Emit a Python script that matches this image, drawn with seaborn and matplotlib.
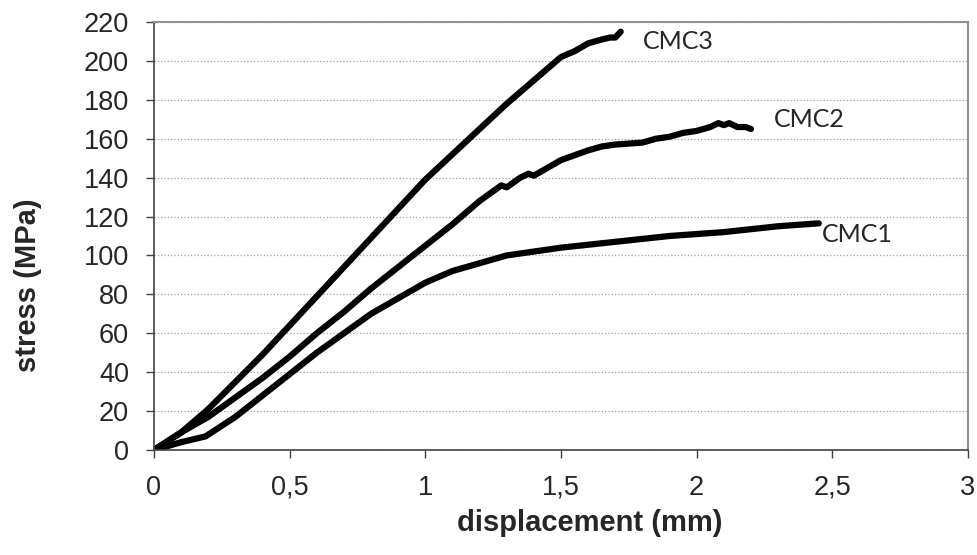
import pandas as pd
import numpy as np
import seaborn as sns
from matplotlib import pyplot as plt

# stress-displacement curves
cmc1_x = [0, 0.1, 0.19, 0.3, 0.4, 0.5, 0.6, 0.7, 0.8, 0.9, 1.0, 1.1, 1.2, 1.3, 1.4, 1.5, 1.7, 1.9, 2.1, 2.3, 2.45]
cmc1_y = [0, 4, 7, 17, 28, 39, 50, 60, 70, 78, 86, 92, 96, 100, 102, 104, 107, 110, 112, 115, 116.5]

cmc2_x = [0, 0.1, 0.2, 0.3, 0.4, 0.5, 0.6, 0.7, 0.8, 0.9, 1.0, 1.1, 1.2, 1.25, 1.28, 1.3, 1.35, 1.38, 1.4, 1.45,
          1.5, 1.6, 1.65, 1.7, 1.8, 1.85, 1.9, 1.95, 2.0, 2.05, 2.08, 2.1, 2.12, 2.15, 2.18, 2.2]
cmc2_y = [0, 9, 17, 27, 37, 48, 60, 71, 83, 94, 105, 116, 128, 133, 136, 135, 140, 142, 141, 145,
          149, 154, 156, 157, 158, 160, 161, 163, 164, 166, 168, 167, 168, 166, 166, 165]

cmc3_x = [0, 0.1, 0.2, 0.3, 0.4, 0.5, 0.6, 0.7, 0.8, 0.9, 1.0, 1.1, 1.2, 1.3, 1.4, 1.5, 1.55, 1.6, 1.65, 1.68, 1.7, 1.72]
cmc3_y = [0, 9, 21, 35, 49, 64, 79, 94, 109, 124, 139, 152, 165, 178, 190, 202, 205, 209, 211, 212, 212, 215]

series_names = ['CMC1', 'CMC2', 'CMC3']
label_pos = [(2.463, 111), (2.285, 170), (1.80, 210)]

x_ticks = [0, 0.5, 1, 1.5, 2, 2.5, 3]
x_ticklabels = ['0', '0,5', '1', '1,5', '2', '2,5', '3']
y_ticks = list(range(0, 221, 20))

df = pd.concat([
    pd.DataFrame({'displacement': cmc1_x, 'stress': cmc1_y, 'sample': 'CMC1'}),
    pd.DataFrame({'displacement': cmc2_x, 'stress': cmc2_y, 'sample': 'CMC2'}),
    pd.DataFrame({'displacement': cmc3_x, 'stress': cmc3_y, 'sample': 'CMC3'}),
])

sns.set_style('white')
plt.rcParams['font.family'] = ['Liberation Sans', 'DejaVu Sans']

fig = plt.figure(figsize=(9.77, 5.55), dpi=100)
ax = fig.add_axes([0.1576, 0.1892, 0.8332, 0.7712])

sns.lineplot(data=df, x='displacement', y='stress', hue='sample', palette=['black'] * 3,
             linewidth=4.5, legend=False, sort=False, ax=ax)

for name, (lx, ly) in zip(series_names, label_pos):
    ax.text(lx, ly, name, fontsize=18, family=['Lato', 'DejaVu Sans'], va='center', ha='left')

ax.set_xlim(0, 3)
ax.set_ylim(0, 220)
ax.set_xticks(x_ticks)
ax.set_xticklabels(x_ticklabels)
ax.set_yticks(y_ticks)
ax.yaxis.grid(True, linestyle=':', color='#a0a0a0', linewidth=0.9)
ax.xaxis.grid(False)
ax.tick_params(axis='both', labelsize=19.5, direction='out', length=6, width=1, color='#404040', pad=12)
ax.tick_params(axis='both', left=True, bottom=True)

for side in ['left', 'bottom']:
    ax.spines[side].set_color('#404040')
    ax.spines[side].set_linewidth(1.2)
for side in ['top', 'right']:
    ax.spines[side].set_color('#909090')
    ax.spines[side].set_linewidth(1.5)

ax.set_xlabel('displacement (mm)', fontsize=21, fontweight='bold')
ax.xaxis.set_label_coords(0.535, -0.17)
ax.xaxis.label.set_va('center')
ax.set_ylabel('stress (MPa)', fontsize=21, fontweight='bold')
ax.yaxis.set_label_coords(-0.155, 0.385)
ax.yaxis.label.set_va('center')

fig.savefig('out.png', dpi=100)
